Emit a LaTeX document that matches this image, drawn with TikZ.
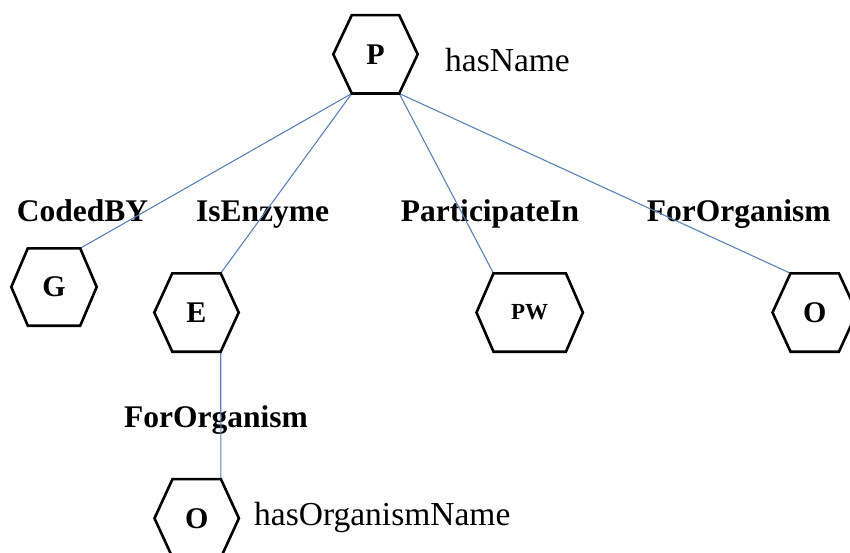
\documentclass[tikz,border=0pt]{standalone}
\usepackage{fontspec}
\setmainfont{Liberation Serif}
\begin{document}
\begin{tikzpicture}[x=1pt,y=-1pt,
  hexbox/.style n args={2}{shape=rectangle, minimum width=#1, minimum height=#2,
    inner sep=0pt, font=\fontsize{30}{34}\selectfont\bfseries},
  hexline/.style={draw=black, line width=2.6pt, line join=miter},
  link/.style={draw=linkblue, line width=1.1pt},
  rel/.style={inner sep=0pt, anchor=base, font=\fontsize{31.5}{36}\selectfont\bfseries},
  attr/.style={inner sep=0pt, anchor=base west, font=\fontsize{33.5}{38}\selectfont}]
\definecolor{linkblue}{RGB}{90,130,185}
% hexagon drawn round a node: the node box gives the flat top and bottom edges,
% the second argument is how far the side vertices stick out
\newcommand\hexround[2]{\draw[hexline] (#1.north west) -- (#1.north east)
  -- ([xshift=#2]#1.east) -- (#1.south east) -- (#1.south west)
  -- ([xshift=-#2]#1.west) -- cycle;}

\useasboundingbox (0,0) rectangle (850,553);
\clip (0,0) rectangle (850,553);

% entity nodes
\node[hexbox={47}{78}] (P)  at (375.5,54.3) {P};
\node[hexbox={52}{77}] (G)  at (54,287)     {G};
\node[hexbox={48}{78}] (E)  at (196.5,312.5) {E};
\node[hexbox={72}{78}, font=\fontsize{23}{26}\selectfont\bfseries] (PW) at (529.7,312.5) {PW};
\node[hexbox={48}{78}] (O1) at (814.7,312.5) {O};
\node[hexbox={48}{78}] (O2) at (196.7,518.3) {O};

% relation labels
\node[rel] (lCoded) at (82.5,221.7) {CodedBY};
\node[rel] (lEnz)   at (262.5,221.7) {IsEnzyme};
\node[rel] (lPart)  at (490,222) {ParticipateIn};
\node[rel] (lOrg1)  at (738.7,222) {ForOrganism};
\node[rel] (lOrg2)  at (216,427.3) {ForOrganism};

% attribute labels
\node[attr] (aName) at (445,71.7) {hasName};
\node[attr] (aOrg)  at (254,525) {hasOrganismName};

% connectors
\draw[link] (P.south west) -- (G.north east);
\draw[link] (P.south west) -- (E.north east);
\draw[link] (P.south east) -- (PW.north west);
\draw[link] (P.south east) -- (O1.north west);
\draw[link] (E.south east) -- (O2.north east);

% hexagon outlines
\hexround{P}{18.5}
\hexround{G}{16.5}
\hexround{E}{18}
\hexround{PW}{17}
\hexround{O1}{18}
\hexround{O2}{18}
\end{tikzpicture}
\end{document}
